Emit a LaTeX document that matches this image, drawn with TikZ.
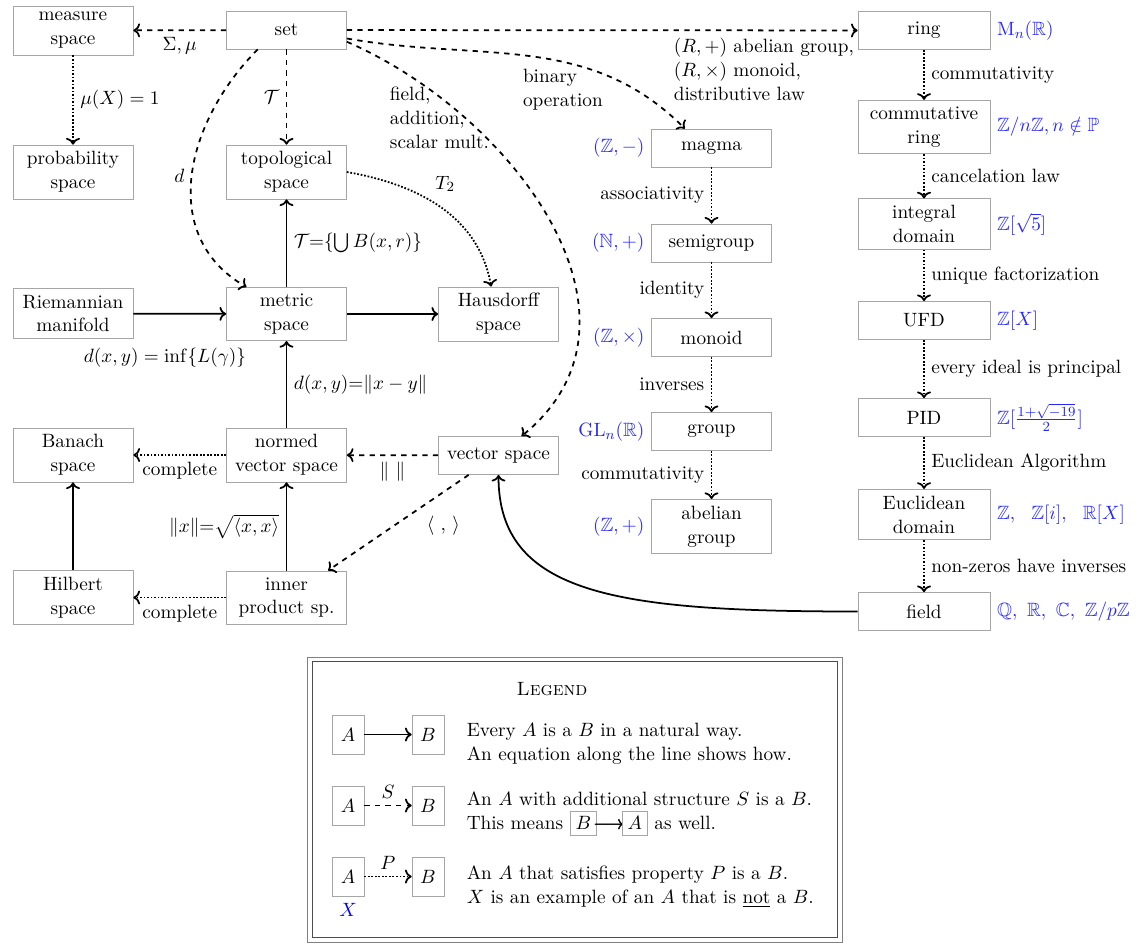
\documentclass[tikz,border=0pt,11pt]{standalone}
\usepackage{amsmath,amssymb}
\usetikzlibrary{arrows.meta, positioning, calc}
\tikzset{
  box/.style={draw=black!35, fill=white, minimum width=2.4cm, minimum height=0.76cm, align=center, inner sep=3.7pt},
  wbox/.style={box, minimum width=2.64cm},
  lbox/.style={draw=black!35, minimum width=0.64cm, minimum height=0.78cm, inner sep=2pt},
  natarr/.style={->, line width=1pt},
  strarr/.style={->, line width=1pt, dashed},
  proparr/.style={->, line width=1pt, densely dotted},
  exr/.style={text=blue!85, right=0pt of #1},
  exl/.style={text=blue!85, left=0pt of #1},
}
\begin{document}
\begin{tikzpicture}[x=0.2mm, y=0.2mm]
  \useasboundingbox (0,0) rectangle (1147,-949);
  % analysis / topology side
  \node[box] (measure) at (73,-30.5) {measure\\space};
  \node[box] (set) at (286.5,-30) {set};
  \node[box] (prob) at (73,-172) {probability\\space};
  \node[box] (topo) at (286.5,-172) {topological\\space};
  \node[box] (riem) at (73,-313.5) {Riemannian\\manifold};
  \node[box] (metric) at (286.5,-314) {metric\\space};
  \node[box] (haus) at (498.5,-314) {Hausdorff\\space};
  \node[box] (banach) at (73,-455) {Banach\\space};
  \node[box] (normed) at (286.5,-455) {normed\\vector space};
  \node[box] (vect) at (498.5,-455.5) {vector space};
  \node[box] (hilbert) at (73,-597.5) {Hilbert\\space};
  \node[box] (inner) at (286.5,-597.5) {inner\\product sp.};
  % groups
  \node[box] (magma) at (711.5,-148) {magma};
  \node[box] (semigrp) at (711.5,-243) {semigroup};
  \node[box] (monoid) at (711.5,-337.5) {monoid};
  \node[box] (group) at (711.5,-431.5) {group};
  \node[box] (abgrp) at (711.5,-526.5) {abelian\\group};
  % rings
  \node[wbox] (ring) at (924,-30.5) {ring};
  \node[wbox] (cring) at (924,-127) {commutative\\ring};
  \node[wbox] (intdom) at (924,-224) {integral\\domain};
  \node[wbox] (ufd) at (924,-320.5) {UFD};
  \node[wbox] (pid) at (924,-417.5) {PID};
  \node[wbox] (eucl) at (924,-514.5) {Euclidean\\domain};
  \node[wbox] (field) at (924,-611.5) {field};

  % examples
  \node[exl=magma] (exmagma) {$(\mathbb{Z},-)$};
  \node[exl=semigrp] (exsemigrp) {$(\mathbb{N},+)$};
  \node[exl=monoid] (exmonoid) {$(\mathbb{Z},\times)$};
  \node[exl=group] (exgroup) {$\mathrm{GL}_n(\mathbb{R})$};
  \node[exl=abgrp] (exabgrp) {$(\mathbb{Z},+)$};
  \node[exr=ring] (exring) {$\mathrm{M}_n(\mathbb{R})$};
  \node[exr=cring] (excring) {$\mathbb{Z}/n\mathbb{Z}, n\notin\mathbb{P}$};
  \node[exr=intdom] (exintdom) {$\mathbb{Z}[\sqrt{5}]$};
  \node[exr=ufd] (exufd) {$\mathbb{Z}[X]$};
  \node[exr=pid] (expid) {$\mathbb{Z}[\frac{1+\sqrt{-19}}{2}]$};
  \node[exr=eucl] (exeucl) {$\mathbb{Z},\ \ \mathbb{Z}[i],\ \ \mathbb{R}[X]$};
  \node[exr=field] (exfield) {$\mathbb{Q},\ \mathbb{R},\ \mathbb{C},\ \mathbb{Z}/p\mathbb{Z}$};

  % connectors
  \draw[strarr] (set) -- node[below] {$\Sigma,\mu$} (measure);
  \draw[proparr] (measure) -- node[right] {$\mu(X) = 1$} (prob);
  \draw[strarr] (set) -- node[left] {$\mathcal{T}$} (topo);
  \draw[strarr] (set.214) to[out=225, in=150, looseness=1.1] node[left] {$d$} (metric.146);
  \draw[natarr] (metric) -- node[right] {$\mathcal{T}{=}\{\bigcup B(x,r)\}$} (topo);
  \draw[proparr] (topo.east) to[out=-10, in=100] node[above right, pos=0.42] {$T_2$} (haus.105);
  \draw[natarr] (riem) -- node[pos=0.34, below=0.55cm] {$d(x,y) = \inf\{L(\gamma)\}$} (metric);
  \draw[natarr] (metric) -- (haus);
  \draw[natarr] (normed) -- node[right] {$d(x,y){=}\|x-y\|$} (metric);
  \draw[strarr] (vect) -- node[below] {$\|\ \|$} (normed);
  \draw[strarr] (vect.213) -- node[pos=0.35, below right] {$\langle\ ,\,\rangle$} (inner.33);
  \draw[natarr] (inner) -- node[left] {$\|x\|{=}\sqrt{\langle x,x\rangle}$} (normed);
  \draw[proparr] (normed) -- node[below] {complete} (banach);
  \draw[proparr] (inner) -- node[below] {complete} (hilbert);
  \draw[natarr] (hilbert) -- (banach);
  \draw[strarr] (set.-11) .. controls (515,-115) and (665,-320) .. node[pos=0.25, anchor=east, align=left, xshift=0.62cm] {field,\\addition,\\scalar mult.} (vect.40);
  \draw[strarr] (set.-8) to[out=-10, in=135] node[pos=0.6, below, align=left] {binary\\operation} (magma.144);
  \draw[strarr] (set) -- node[pos=0.635, anchor=north west, align=left, inner sep=1pt, yshift=-3pt] {$(R,+)$ abelian group,\\$(R,\times)$ monoid,\\distributive law} (ring);
  \draw[natarr] (field) to[out=180, in=-90, out looseness=1.6, in looseness=0.8] (vect);

  \draw[proparr] (magma) -- node[left] {associativity} (semigrp);
  \draw[proparr] (semigrp) -- node[left] {identity} (monoid);
  \draw[proparr] (monoid) -- node[left] {inverses} (group);
  \draw[proparr] (group) -- node[left] {commutativity} (abgrp);

  \draw[proparr] (ring) -- node[right] {commutativity} (cring);
  \draw[proparr] (cring) -- node[right] {cancelation law} (intdom);
  \draw[proparr] (intdom) -- node[right] {unique factorization} (ufd);
  \draw[proparr] (ufd) -- node[right] {every ideal is principal} (pid);
  \draw[proparr] (pid) -- node[right] {Euclidean Algorithm} (eucl);
  \draw[proparr] (eucl) -- node[right] {non-zeros have inverses} (field);

  % legend
  \draw[black!50] (307,-657) rectangle (842,-942);
  \draw[black!70] (312,-661) rectangle (837,-937);
  \node (ltitle) at (552,-689) {\textsc{Legend}};
  \node[lbox] (la1) at (348,-734.5) {$A$};
  \node[lbox] (lb1) at (428,-734.5) {$B$};
  \node[lbox] (la2) at (348,-805.5) {$A$};
  \node[lbox] (lb2) at (428,-805.5) {$B$};
  \node[lbox] (la3) at (348,-876.5) {$A$};
  \node[lbox] (lb3) at (428,-876.5) {$B$};
  \node[text=blue, below=0pt of la3] (lx) {$X$};
  \draw[natarr] (la1) -- (lb1);
  \draw[strarr] (la2) -- node[above] {$S$} (lb2);
  \draw[proparr] (la3) -- node[above] {$P$} (lb3);
  \node[anchor=west, align=left] (lt1) at (460,-744) {Every $A$ is a $B$ in a natural way.\\An equation along the line shows how.};
  \node[anchor=west, align=left] (lt2) at (460,-814) {An $A$ with additional structure $S$ is a $B$.\\This means \fcolorbox{black!35}{white}{$B$}$\!\pmb{\longrightarrow}\!$\fcolorbox{black!35}{white}{$A$} as well.};
  \node[anchor=west, align=left] (lt3) at (460,-887) {An $A$ that satisfies property $P$ is a $B$.\\$X$ is an example of an $A$ that is \underline{not} a $B$.};
\end{tikzpicture}
\end{document}
